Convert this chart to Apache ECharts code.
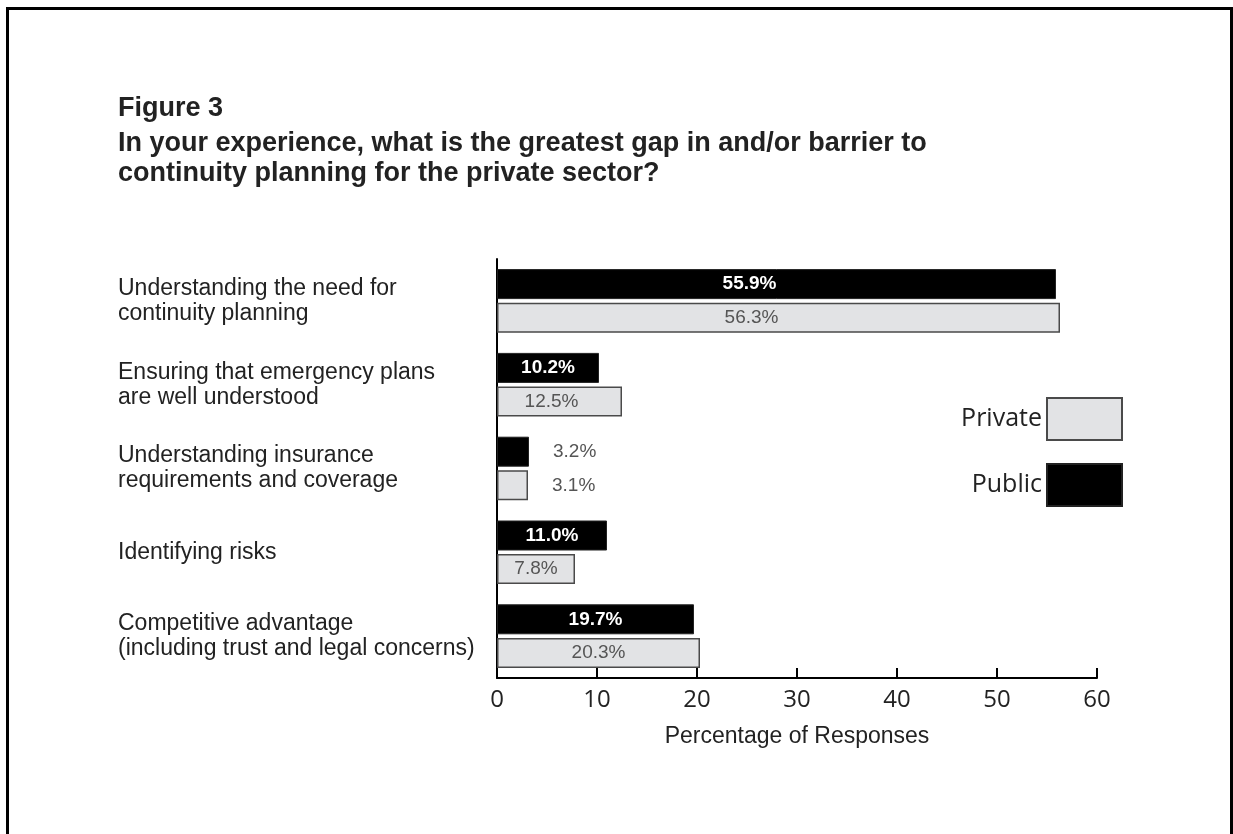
<!DOCTYPE html>
<html>
<head>
<meta charset="utf-8">
<script src="https://cdn.jsdelivr.net/npm/echarts@6/dist/echarts.min.js"></script>
<style>
  html, body { margin: 0; padding: 0; background: #ffffff; }
  #frame { position: absolute; left: 6px; top: 7px; width: 1221px; height: 900px;
           border: 3px solid #000; border-bottom: none; box-sizing: content-box; }
  #chart { position: absolute; left: 0; top: 0; width: 1233px; height: 834px; }
</style>
</head>
<body>
<div id="frame"></div>
<div id="chart"></div>
<script>
// ---- data ----
const categories = [
  'Understanding the need for\ncontinuity planning',
  'Ensuring that emergency plans\nare well understood',
  'Understanding insurance\nrequirements and coverage',
  'Identifying risks',
  'Competitive advantage\n(including trust and legal concerns)'
];
const publicValues  = [55.9, 10.2, 3.2, 11.0, 19.7];
const privateValues = [56.3, 12.5, 3.1, 7.8, 20.3];
const seriesNames = ['Public', 'Private'];
const xTicks = { min: 0, max: 60, interval: 10 };
const titleText = 'Figure 3';
const subtitleText = 'In your experience, what is the greatest gap in and/or barrier to\ncontinuity planning for the private sector?';
const xAxisName = 'Percentage of Responses';

// ---- build ----
function makeData(values, isPublic) {
  return values.map(function (v, i) {
    const item = { value: v };
    if (v < 5) {
      item.label = { position: 'right', distance: 24, color: '#555', fontWeight: 'normal' };
    } else if (i === 0) {
      item.label = { offset: [-27, 0] };
    } else if (!isPublic && i === 1) {
      item.label = { offset: [-8, 0] };
    }
    return item;
  });
}

const chart = echarts.init(document.getElementById('chart'), null, { renderer: 'canvas' });
const option = {
  backgroundColor: 'transparent',
  animation: false,
  title: {
    text: titleText,
    subtext: subtitleText,
    left: 118,
    top: 94,
    padding: 0,
    itemGap: 5,
    textStyle: { fontFamily: 'Liberation Sans, Arial, sans-serif', fontSize: 27, fontWeight: 'bold', color: '#222', lineHeight: 30 },
    subtextStyle: { fontFamily: 'Liberation Sans, Arial, sans-serif', fontSize: 27, fontWeight: 'bold', color: '#222', lineHeight: 30 }
  },
  legend: {
    data: ['Private', 'Public'],
    orient: 'vertical',
    right: 110,
    top: 397,
    align: 'right',
    icon: 'rect',
    itemWidth: 75,
    itemHeight: 42,
    itemGap: 22,
    padding: 0,
    textStyle: { fontFamily: 'Open Sans, sans-serif', fontSize: 25, color: '#222' }
  },
  grid: { left: 497, right: 136, top: 259, bottom: 156, containLabel: false },
  xAxis: {
    type: 'value',
    min: xTicks.min, max: xTicks.max, interval: xTicks.interval,
    name: xAxisName,
    nameLocation: 'middle',
    nameGap: 47,
    nameTextStyle: { fontFamily: 'Liberation Sans, Arial, sans-serif', fontSize: 23, color: '#222' },
    axisLine: { show: true, lineStyle: { color: '#000', width: 2 } },
    axisTick: { show: true, inside: true, length: 10, lineStyle: { color: '#000', width: 2 } },
    axisLabel: { fontFamily: 'Open Sans, sans-serif', fontSize: 24, color: '#222', margin: 10 },
    splitLine: { show: false }
  },
  yAxis: {
    type: 'category',
    data: categories,
    inverse: true,
    axisLine: { show: true, lineStyle: { color: '#000', width: 2 } },
    axisTick: { show: false },
    axisLabel: {
      align: 'left',
      margin: 379,
      fontFamily: 'Liberation Sans, Arial, sans-serif',
      fontSize: 23,
      lineHeight: 25,
      color: '#222'
    }
  },
  series: [
    {
      name: seriesNames[0],
      type: 'bar',
      data: makeData(publicValues, true),
      barWidth: 30,
      barGap: '12%',
      itemStyle: { color: '#000', borderColor: '#222', borderWidth: 1 },
      label: {
        show: true, position: 'inside',
        formatter: function (p) { return p.value.toFixed(1) + '%'; },
        fontFamily: 'Liberation Sans, Arial, sans-serif', fontSize: 19, fontWeight: 'bold', color: '#fff'
      }
    },
    {
      name: seriesNames[1],
      type: 'bar',
      data: makeData(privateValues, false),
      barWidth: 30,
      itemStyle: { color: '#e2e3e5', borderColor: '#4a4a4a', borderWidth: 1.5 },
      label: {
        show: true, position: 'inside',
        formatter: function (p) { return p.value.toFixed(1) + '%'; },
        fontFamily: 'Liberation Sans, Arial, sans-serif', fontSize: 19, color: '#555'
      }
    }
  ]
};
chart.setOption(option);
</script>
</body>
</html>
